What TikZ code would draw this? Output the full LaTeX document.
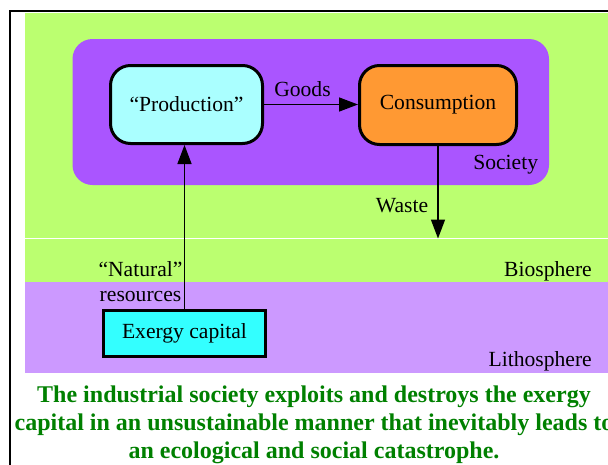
\documentclass[tikz,border=0pt]{standalone}
\usepackage{fontspec}
\setmainfont{Liberation Serif}
\usetikzlibrary{arrows.meta}

\definecolor{bioGreen}{RGB}{187,255,112}
\definecolor{lithoLilac}{RGB}{204,153,255}
\definecolor{societyPurple}{RGB}{170,85,255}
\definecolor{prodCyan}{RGB}{170,255,255}
\definecolor{consOrange}{RGB}{255,153,51}
\definecolor{capitalCyan}{RGB}{51,255,255}
\definecolor{captionGreen}{RGB}{0,128,0}

\tikzset{
  lbl/.style={font=\fontsize{21.6}{24.3}\selectfont, inner sep=0pt, text=black},
  flowbox/.style={draw=black, line width=3pt, rounded corners=20pt, inner sep=0pt,
    font=\fontsize{21.6}{24.3}\selectfont},
  capbox/.style={draw=black, line width=3pt, inner sep=0pt, fill=capitalCyan,
    font=\fontsize{21.6}{24.3}\selectfont},
  flow/.style={line width=1.5pt, -{Triangle[length=19pt,width=14pt]}},
}

\begin{document}
\begin{tikzpicture}[x=1pt,y=-1pt]
  \useasboundingbox (0,0) rectangle (608,464);

  % layers of the environment
  \fill[bioGreen] (25,12.5) rectangle (608,282);
  \draw[white, line width=1pt] (25,238.3) -- (608,238.3);
  \fill[lithoLilac] (25,282) rectangle (608,373);

  % society region
  \fill[societyPurple, rounded corners=20pt] (72.5,39) rectangle (549,185);

  % outer frame
  \draw[black, line width=2.6pt] (10,470) -- (10,11) -- (612,11);

  % processes
  \node[flowbox, fill=prodCyan, minimum width=152pt, minimum height=78pt]
    (prod) at (186.5,104.5) {“Production”};
  \node[flowbox, fill=consOrange, minimum width=157pt, minimum height=79pt]
    (cons) at (438,105) {Consumption};
  \node[capbox, minimum width=162pt, minimum height=46pt]
    (capital) at (184.5,333.5) {Exergy capital\hspace{12pt}};

  % flows
  \coordinate (wasteend) at (438,238.5);
  \draw[flow] (prod.east) -- (prod.east -| cons.west);
  \draw[flow] (cons.south) -- (wasteend);
  \draw[flow] (capital.north) -- (capital.north |- prod.south);

  % labels (multi-line nodes are placed by the baseline of their last line)
  \node[lbl, anchor=base] (goods) at (302.5,96) {Goods};
  \node[lbl, anchor=base east] (society) at (538.3,169) {Society};
  \node[lbl, anchor=base east] (waste) at (428.3,212.7) {Waste};
  \node[lbl, anchor=base, align=center] (natural) at (140.5,301)
    {“Natural”\\resources};
  \node[lbl, anchor=base east] (bio) at (592,276) {Biosphere};
  \node[lbl, anchor=base east] (litho) at (592,366) {Lithosphere};

  % caption
  \node[anchor=base, align=center, inner sep=0pt, text=captionGreen,
        font=\fontsize{24}{28}\selectfont\bfseries] (caption) at (314,458)
    {The industrial society exploits and destroys the exergy\\
     capital in an unsustainable manner that inevitably leads to\\
     an ecological and social catastrophe.};
\end{tikzpicture}
\end{document}
